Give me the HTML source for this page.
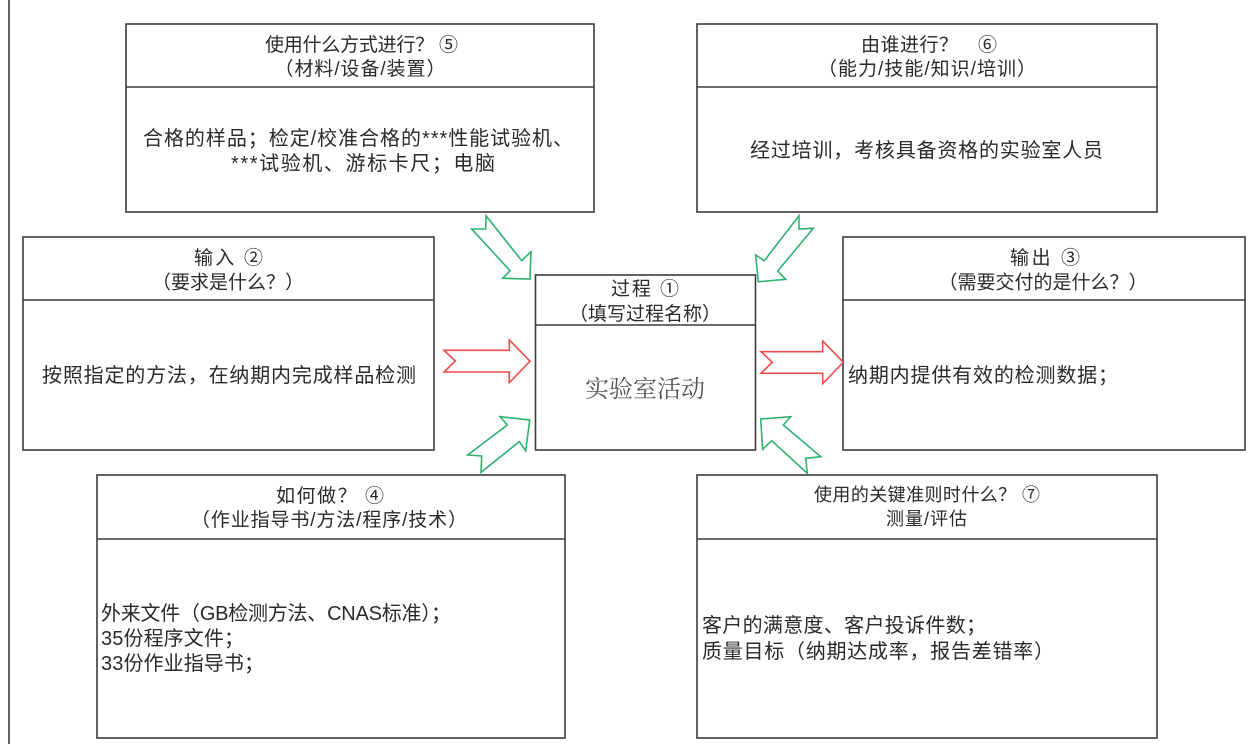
<!DOCTYPE html>
<html lang="zh">
<head>
<meta charset="utf-8">
<style>
html,body{margin:0;padding:0;background:#fff;width:1256px;height:744px;overflow:hidden}
svg{display:block}
text{font-family:"Liberation Sans","WenQuanYi Zen Hei","Noto Sans CJK SC",sans-serif;font-size:20px;fill:#2a2a2a}
.t{font-size:19px}
.b{fill:#fff;stroke:#3c3c3c;stroke-width:1.6}
.l{stroke:#3c3c3c;stroke-width:1.6}
.g{fill:#fff;stroke:#2fb26f;stroke-width:1.6}
.r{fill:#fff;stroke:#ee4c4c;stroke-width:1.6}
</style>
</head>
<body>
<svg width="1256" height="744" viewBox="0 0 1256 744" xmlns="http://www.w3.org/2000/svg">
<rect width="1256" height="744" fill="#fff"/>
<line x1="9" y1="0" x2="9" y2="744" class="l"/>

<rect class="b" x="126" y="24" width="468" height="188"/><line class="l" x1="126" y1="87" x2="594" y2="87"/>
<rect class="b" x="697" y="24" width="460" height="188"/><line class="l" x1="697" y1="87" x2="1157" y2="87"/>
<rect class="b" x="23" y="237" width="411" height="213"/><line class="l" x1="23" y1="300" x2="434" y2="300"/>
<rect class="b" x="535.5" y="275" width="220" height="175"/><line class="l" x1="535.5" y1="325" x2="755.5" y2="325"/>
<rect class="b" x="843" y="237" width="402" height="213"/><line class="l" x1="843" y1="300" x2="1245" y2="300"/>
<rect class="b" x="97" y="475" width="468" height="263"/><line class="l" x1="97" y1="539" x2="565" y2="539"/>
<rect class="b" x="697" y="475" width="460" height="263"/><line class="l" x1="697" y1="539" x2="1157" y2="539"/>

<polygon class="g" points="486,215.7 485.7,229 471.7,229 510,270.7 502.7,278.3 530,279 531,251.7 521.7,260.7"/>
<polygon class="g" points="799,215.7 799,229 813.3,228.3 777.7,271 785.7,279.3 758.3,281.7 755.7,255 764.3,260.7"/>
<polygon class="r" points="444,350.3 455.3,361 444,372 509.3,372 509.3,382.7 530,361.3 509.3,340 509.3,350.3"/>
<polygon class="r" points="761,351.7 772.3,362.3 761,373.3 822.7,373.3 822.7,383.7 843.3,362.3 822.7,341 822.7,351.7"/>
<polygon class="g" points="467.7,455 481.7,456 481,472.3 519.3,441.7 525.7,450.7 529.7,420 500,416.7 507.3,425"/>
<polygon class="g" points="820.7,456.7 805.7,458.3 807.3,473.3 771.7,440.7 762.7,449.3 760.7,419 790.7,416.7 783.3,425"/>

<text class="t" x="265" y="51" textLength="193">使用什么方式进行？ ⑤</text>
<text class="t" x="274.5" y="75" textLength="171">（材料/设备/装置）</text>
<text x="143" y="145" textLength="430">合格的样品；检定/校准合格的***性能试验机、</text>
<text x="231" y="170" textLength="264">***试验机、游标卡尺；电脑</text>

<text class="t" x="861" y="51" textLength="136">由谁进行？　⑥</text>
<text class="t" x="818" y="75" textLength="218">（能力/技能/知识/培训）</text>
<text x="750" y="157" textLength="353">经过培训，考核具备资格的实验室人员</text>

<text class="t" x="194" y="264" textLength="69">输入 ②</text>
<text class="t" x="152" y="288.5" textLength="152">（要求是什么？）</text>
<text x="42" y="382" textLength="374">按照指定的方法，在纳期内完成样品检测</text>

<text class="t" x="611" y="295" textLength="68">过程 ①</text>
<text class="t" x="569" y="320" textLength="152">（填写过程名称）</text>
<text x="585" y="397" textLength="120" style="font-family:'Liberation Serif','Noto Serif CJK SC',serif;font-size:24px;fill:#555">实验室活动</text>

<text class="t" x="1010" y="264" textLength="70">输出 ③</text>
<text class="t" x="938.5" y="288.5" textLength="209">（需要交付的是什么？）</text>
<text x="848" y="382" textLength="270">纳期内提供有效的检测数据；</text>

<text class="t" x="276" y="502" textLength="108">如何做？ ④</text>
<text class="t" x="191" y="526" textLength="276">（作业指导书/方法/程序/技术）</text>
<text x="101" y="620" textLength="350">外来文件（GB检测方法、CNAS标准）；</text>
<text x="101" y="645" textLength="143">35份程序文件；</text>
<text x="101" y="670" textLength="163">33份作业指导书；</text>

<text x="814" y="501" textLength="226" style="font-size:18px">使用的关键准则时什么？ ⑦</text>
<text x="886" y="525" textLength="81" style="font-size:18px">测量/评估</text>
<text x="702" y="632" textLength="284">客户的满意度、客户投诉件数；</text>
<text x="702" y="658" textLength="352">质量目标（纳期达成率，报告差错率）</text>
</svg>
</body>
</html>
